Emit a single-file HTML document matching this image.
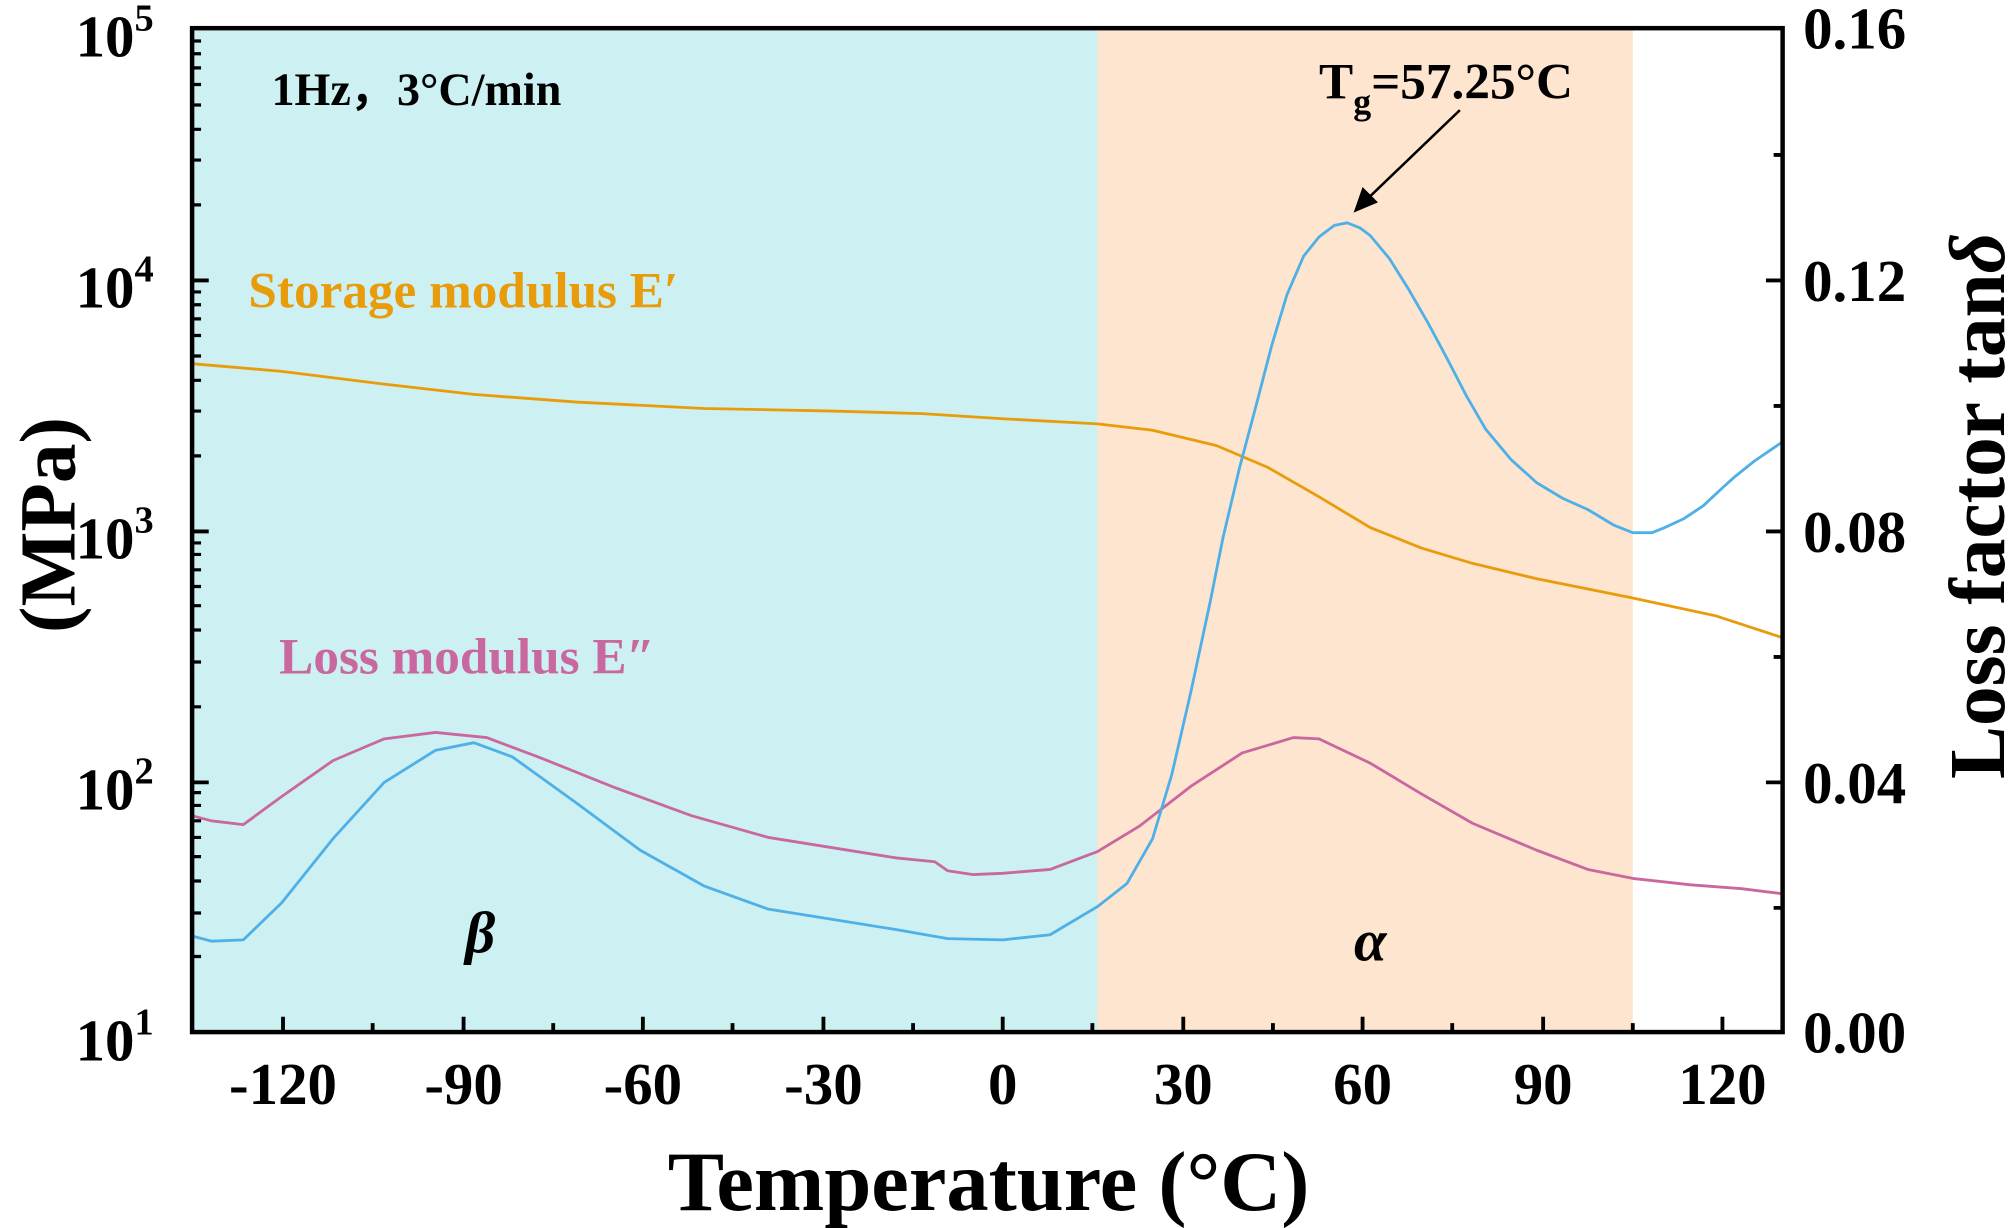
<!DOCTYPE html>
<html><head><meta charset="utf-8"><style>
html,body{margin:0;padding:0;background:#fff;}
svg{display:block;}
text{font-family:"Liberation Serif",serif;font-weight:bold;}
</style></head><body>
<svg width="2008" height="1228" viewBox="0 0 1568 959" preserveAspectRatio="none" xmlns="http://www.w3.org/2000/svg">
<rect x="150" y="22" width="707" height="784" fill="#cdf1f2"/>
<rect x="857" y="22" width="418" height="784" fill="#fde5cf"/>
<g fill="none" stroke-width="2.2" stroke-linejoin="round">
<polyline stroke="#e89c0c" points="150,284 220,290 300,300 370,308 450,314 550,319 650,321 720,323 783,327 857,331 900,336 950,348 990,365 1030,388 1070,412 1110,428 1150,440 1200,452 1275,467 1340,481 1392,498"/>
<polyline stroke="#c8689f" points="150,637 165,641 190,644 220,622 260,594 300,577 340,572 380,576 420,591 480,615 540,637 600,654 650,662 700,670 730,673 740,680 760,683 783,682 820,679 857,665 890,645 930,614 970,588 1010,576 1030,577 1070,596 1110,620 1150,643 1200,664 1240,679 1275,686 1320,691 1360,694 1392,698"/>
<polyline stroke="#4eb0e6" points="150,731 165,735 190,734 220,705 260,655 300,611 340,586 370,580 400,591 450,627 500,664 550,692 600,710 650,718 700,726 740,733 783,734 820,730 857,708 880,690 900,655 915,605 930,540 945,470 955,420 968,365 980,320 993,270 1005,230 1018,200 1030,185 1042,176 1052,174 1062,178 1070,184 1085,202 1100,226 1115,252 1130,280 1145,309 1160,335 1180,359 1200,377 1220,389 1240,398 1260,410 1275,416 1290,416 1300,412 1315,405 1330,395 1345,381 1355,372 1370,360 1392,345"/>
</g>
<g stroke="#000" stroke-width="3.5" fill="none">
<rect x="150" y="22" width="1242" height="784"/>
</g>
<g stroke="#000" stroke-width="3">
<path d="M221,806v-12M362,806v-12M502,806v-12M643,806v-12M783,806v-12M924,806v-12M1064,806v-12M1205,806v-12M1345,806v-12"/>
<path d="M291,806v-7M432,806v-7M572,806v-7M713,806v-7M853,806v-7M994,806v-7M1134,806v-7M1275,806v-7"/>
<path d="M150,219h13M150,415h13M150,611h13"/>
<path d="M1392,219h-13M1392,415h-13M1392,611h-13M1392,121h-7M1392,317h-7M1392,513h-7M1392,709h-7"/>
</g>
<g stroke="#000" stroke-width="2.5">
<path d="M150,747h7M150,713h7M150,688h7M150,669h7M150,654h7M150,641h7M150,629h7M150,619h7
M150,552h7M150,517h7M150,492h7M150,473h7M150,458h7M150,445h7M150,433h7M150,424h7
M150,356h7M150,321h7M150,297h7M150,278h7M150,262h7M150,249h7M150,238h7M150,228h7
M150,160h7M150,125h7M150,101h7M150,82h7M150,66h7M150,53h7M150,42h7M150,32h7"/>
</g>
<g font-size="46" text-anchor="middle" fill="#000">
<text x="221" y="862">-120</text><text x="362" y="862">-90</text><text x="502" y="862">-60</text><text x="643" y="862">-30</text><text x="783" y="862">0</text><text x="924" y="862">30</text><text x="1064" y="862">60</text><text x="1205" y="862">90</text><text x="1345" y="862">120</text>
</g>
<g font-size="46" text-anchor="end" fill="#000">
<text x="120" y="44">10<tspan font-size="30" dy="-20">5</tspan></text>
<text x="120" y="240">10<tspan font-size="30" dy="-20">4</tspan></text>
<text x="120" y="436">10<tspan font-size="30" dy="-20">3</tspan></text>
<text x="120" y="632">10<tspan font-size="30" dy="-20">2</tspan></text>
<text x="120" y="828">10<tspan font-size="30" dy="-20">1</tspan></text>
</g>
<g font-size="46" fill="#000">
<text x="1408" y="38">0.16</text><text x="1408" y="235">0.12</text><text x="1408" y="431">0.08</text><text x="1408" y="627">0.04</text><text x="1408" y="822">0.00</text>
</g>
<text x="772" y="945" font-size="66" text-anchor="middle">Temperature (°C)</text>
<text transform="translate(58,410) rotate(-90)" font-size="62" text-anchor="middle">(MPa)</text>
<text transform="translate(1565,395) rotate(-90)" font-size="62" text-anchor="middle">Loss factor tan<tspan font-style="italic">δ</tspan></text>
<text x="212" y="82" font-size="36">1Hz，3°C/min</text>
<text x="194" y="240" font-size="40" fill="#e89c0c">Storage modulus E′</text>
<text x="218" y="526" font-size="40" fill="#c8689f">Loss modulus E″</text>
<text x="1030" y="77" font-size="40">T<tspan font-size="28" dy="12">g</tspan><tspan dy="-12">=57.25°C</tspan></text>
<line x1="1140" y1="86" x2="1066" y2="157" stroke="#000" stroke-width="2"/>
<polygon points="1057,166 1064,146 1076,158" fill="#000"/>
<text x="375" y="744" font-size="46" font-style="italic" text-anchor="middle">β</text>
<text x="1070" y="750" font-size="46" font-style="italic" text-anchor="middle">α</text>
</svg>
</body></html>
